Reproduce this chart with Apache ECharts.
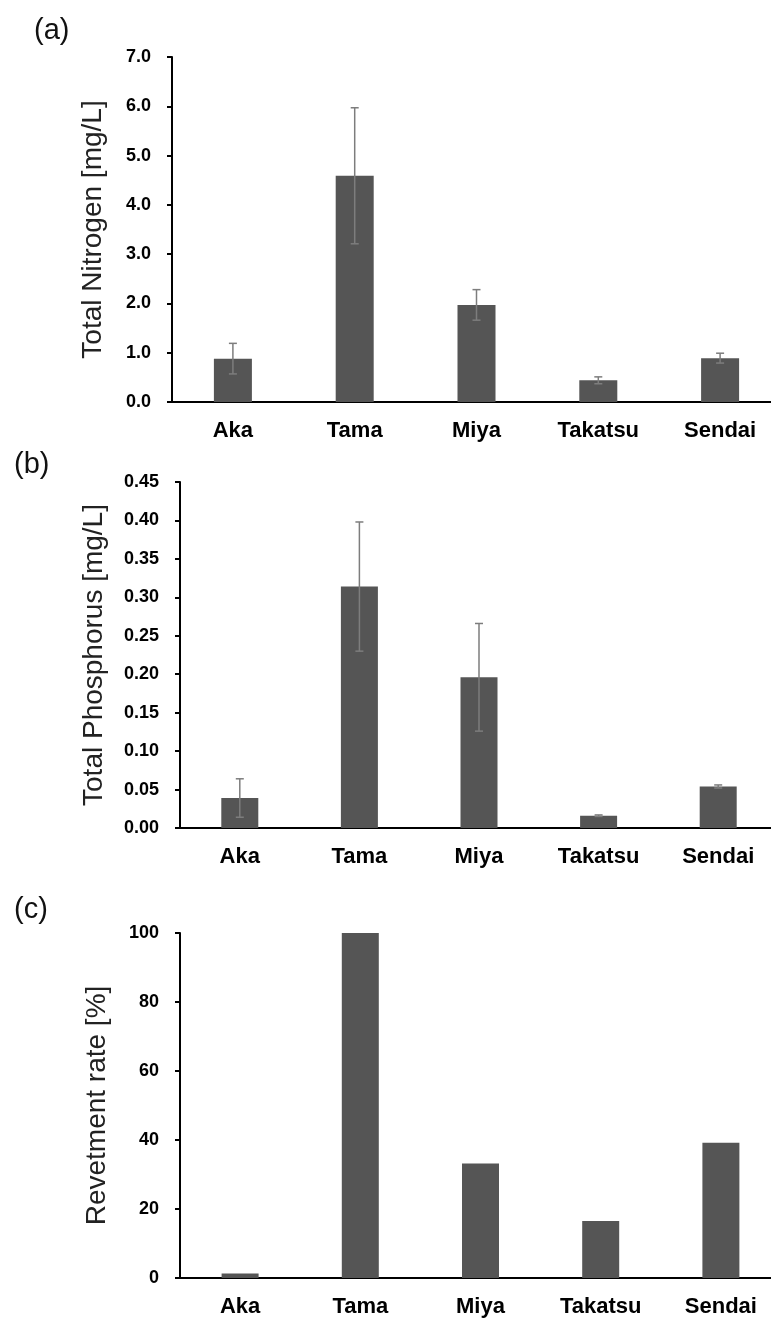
<!DOCTYPE html>
<html>
<head>
<meta charset="utf-8">
<script src="https://cdn.jsdelivr.net/npm/echarts@6/dist/echarts.min.js"></script>
<style>
html,body{margin:0;padding:0;background:#fff;}
#chart{width:771px;height:1319px;}
</style>
</head>
<body>
<div id="chart"></div>
<script>
// ---- data ----
const categories = ['Aka', 'Tama', 'Miya', 'Takatsu', 'Sendai'];
const nitrogenMean = [0.88, 4.59, 1.97, 0.44, 0.89];
const nitrogenErr = [0.31, 1.38, 0.31, 0.07, 0.10];
const phosphorusMean = [0.039, 0.314, 0.196, 0.016, 0.054];
const phosphorusErr = [0.025, 0.084, 0.070, 0.001, 0.002];
const revetmentRate = [1.3, 100, 33.2, 16.5, 39.2];
const panelLabels = ['(a)', '(b)', '(c)'];
const yTitles = ['Total Nitrogen [mg/L]', 'Total Phosphorus [mg/L]', 'Revetment rate [%]'];
const yMax = [7, 0.45, 100];
const yInterval = [1, 0.05, 20];
const yDecimals = [1, 2, 0];

// ---- styles ----
const FONT = "'Liberation Sans', Arial, sans-serif";
const BAR_COLOR = '#555555';
const ERR_COLOR = '#7d7d7d';

const grids = [
  { left: 172, top: 57, width: 609, height: 345 },
  { left: 180, top: 482, width: 598, height: 346 },
  { left: 180, top: 933, width: 601, height: 345 }
];
const nameGaps = [65, 72, 69];

const chart = echarts.init(document.getElementById('chart'), null, { renderer: 'canvas' });

function errorSeries(idx, mean, err) {
  return {
    type: 'custom',
    xAxisIndex: idx,
    yAxisIndex: idx,
    z: 5,
    silent: true,
    data: mean.map((m, i) => [i, m, err[i]]),
    renderItem: function (params, api) {
      const i = api.value(0), m = api.value(1), e = api.value(2);
      const top = api.coord([i, m + e]);
      const bot = api.coord([i, m - e]);
      const hw = 4;
      const st = { stroke: ERR_COLOR, lineWidth: 1.5 };
      return {
        type: 'group',
        children: [
          { type: 'line', shape: { x1: top[0], y1: top[1], x2: bot[0], y2: bot[1] }, style: st },
          { type: 'line', shape: { x1: top[0] - hw, y1: top[1], x2: top[0] + hw, y2: top[1] }, style: st },
          { type: 'line', shape: { x1: bot[0] - hw, y1: bot[1], x2: bot[0] + hw, y2: bot[1] }, style: st }
        ]
      };
    }
  };
}

const option = {
  animation: false,
  backgroundColor: '#ffffff',
  title: panelLabels.map((t, i) => ({
    text: t,
    left: [34, 14, 14][i],
    top: [16, 450, 895][i],
    padding: 0,
    textStyle: { fontFamily: FONT, fontSize: 29, fontWeight: 'normal', color: '#111' }
  })),
  grid: grids.map(g => Object.assign({ containLabel: false, outerBoundsMode: 'none' }, g)),
  xAxis: grids.map((g, i) => ({
    type: 'category',
    gridIndex: i,
    data: categories,
    axisLine: { show: true, lineStyle: { color: '#000', width: 2 } },
    axisTick: { show: false },
    splitLine: { show: false },
    axisLabel: { margin: 18, color: '#000', fontFamily: FONT, fontSize: 22, fontWeight: 'bold', interval: 0 }
  })),
  yAxis: grids.map((g, i) => ({
    type: 'value',
    gridIndex: i,
    min: 0,
    max: yMax[i],
    interval: yInterval[i],
    name: yTitles[i],
    nameLocation: 'middle',
    nameGap: nameGaps[i],
    nameTextStyle: { fontFamily: FONT, fontSize: 28, color: '#222' },
    axisLine: { show: true, lineStyle: { color: '#000', width: 2 } },
    axisTick: { show: true, inside: false, length: 5, lineStyle: { color: '#000', width: 2 } },
    splitLine: { show: false },
    axisLabel: {
      margin: 21,
      color: '#000',
      fontFamily: FONT,
      fontSize: 18,
      fontWeight: 'bold',
      formatter: v => Number(v).toFixed(yDecimals[i])
    }
  })),
  series: [
    { type: 'bar', xAxisIndex: 0, yAxisIndex: 0, data: nitrogenMean, barWidth: 38, itemStyle: { color: BAR_COLOR } },
    errorSeries(0, nitrogenMean, nitrogenErr),
    { type: 'bar', xAxisIndex: 1, yAxisIndex: 1, data: phosphorusMean, barWidth: 37, itemStyle: { color: BAR_COLOR } },
    errorSeries(1, phosphorusMean, phosphorusErr),
    { type: 'bar', xAxisIndex: 2, yAxisIndex: 2, data: revetmentRate, barWidth: 37, itemStyle: { color: BAR_COLOR } }
  ]
};

chart.setOption(option);
</script>
</body>
</html>
